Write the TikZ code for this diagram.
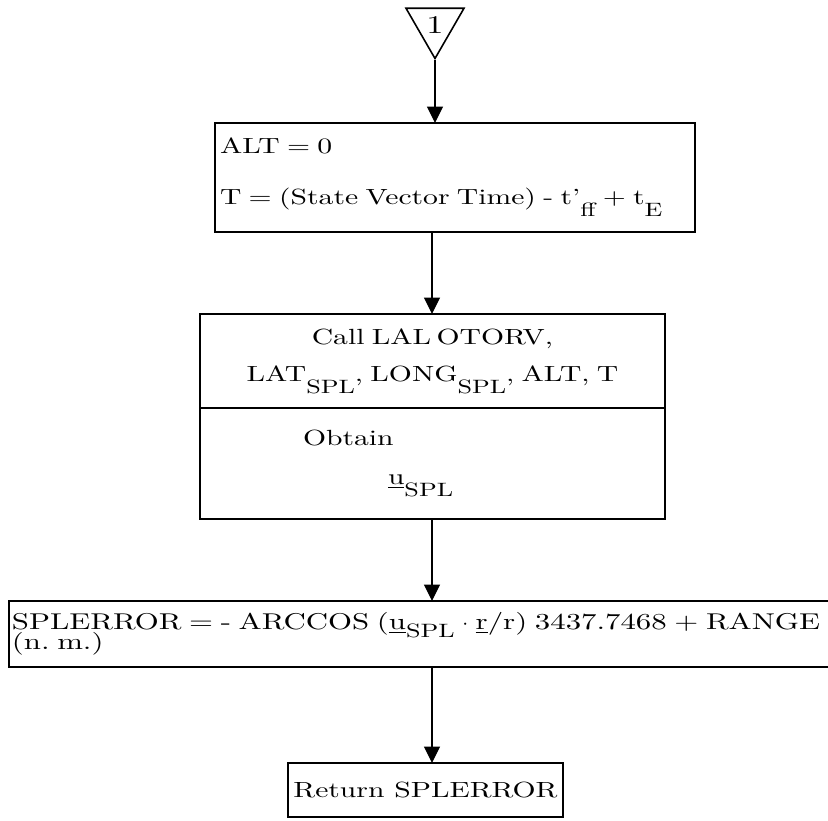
\documentclass[tikz,border=0pt]{standalone}
\usepackage{fontspec}
\setmainfont{lmroman10-regular.otf}[FakeStretch=1.35]
\usetikzlibrary{arrows.meta,positioning,shapes.geometric}
\newcommand\tw{\fontsize{12.5}{15}\selectfont}
\newcommand\lowsub[2][0.55em]{\raisebox{-#1}{\fontsize{11}{13}\selectfont #2}}

\begin{document}
\begin{tikzpicture}[x=0.02cm,y=-0.02cm,
   >={Triangle[length=3.3mm,width=3.2mm]},
   box/.style={draw,line width=0.9pt,outer sep=0pt,inner xsep=0.1cm,inner ysep=0pt},
   flow/.style={->,line width=0.7pt},
   every node/.style={font=\tw}]
  \useasboundingbox (0,0) rectangle (828,821);
  % off-page connector
  \node[draw,line width=0.9pt,regular polygon,regular polygon sides=3,shape border rotate=180,
        minimum size=1.34cm,inner sep=0pt,font=\fontsize{14.5}{16}\selectfont] (conn) at (435,25) {1};
  % initial values
  \node[box,text width=9.4cm,minimum height=2.18cm,align=left] (setup) at (455,177.5)
     {ALT = 0\\[14pt]\mbox{T = (State Vector Time) - t'\lowsub{ff} + t\lowsub{E}}};
  % subroutine call, split box
  \node[box,text width=9.1cm,minimum height=1.88cm,align=center] (call) at (432.5,361)
     {Call LAL\hspace{0.25em}OTORV,\\[6pt]\mbox{LAT\lowsub{SPL}, LONG\lowsub{SPL}, ALT, T}};
  \node[box,text width=9.1cm,minimum height=2.22cm,align=left,below=0pt of call] (obtain)
     {\hspace*{1.96cm}Obtain\\[7pt]\hspace*{3.66cm}\underline{u}\lowsub{SPL}};
  % error in range
  \node[box,anchor=west,text width=16.9cm,minimum height=1.32cm,inner xsep=0.06cm,align=left,
        font=\fontsize{13}{15}\selectfont] (err) at (9,634)
     {\mbox{SPLERROR = - ARCCOS (\underline{u}\lowsub[0.35em]{SPL} $\cdot$ \underline{r}/r) 3437.7468 + RANGE}\\[-3.5pt](n.\ m.)};
  \node[box,minimum width=5.5cm,minimum height=1.08cm,inner xsep=0pt] (ret) at (425.5,790) {Return SPLERROR};
  % flow lines
  \coordinate (col) at (432,0);
  \draw[flow] (conn.south) -- (conn.south |- setup.north);
  \draw[flow] (setup.south -| col) -- (call.north -| col);
  \draw[flow] (obtain.south -| col) -- (err.north -| col);
  \draw[flow] (err.south -| col) -- (ret.north -| col);
\end{tikzpicture}
\end{document}
